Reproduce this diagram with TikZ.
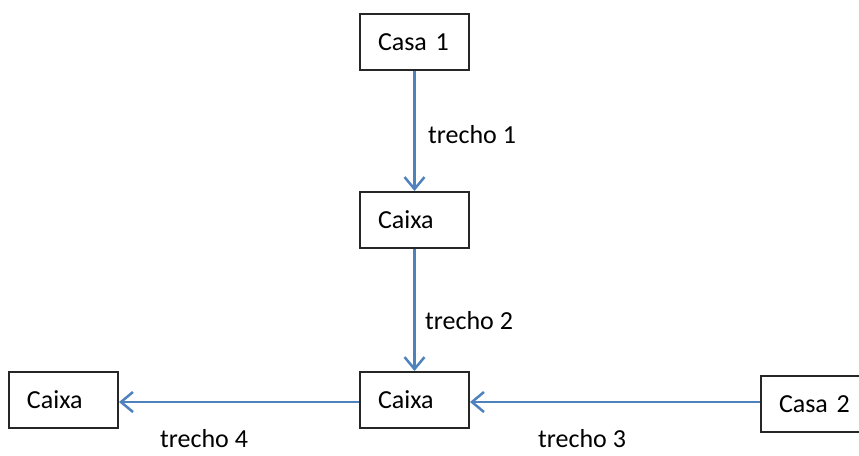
\documentclass[tikz,border=0pt]{standalone}
\usepackage{fontspec}
\setmainfont{Carlito}
\usetikzlibrary{arrows.meta}
\definecolor{arrowblue}{HTML}{4F81BD}
\begin{document}
\begin{tikzpicture}[x=1pt,y=-1pt,
  box/.style={draw=black!85,line width=2pt,minimum width=109pt,minimum height=56pt,
    inner xsep=18pt,inner ysep=0pt,text width=73pt,align=left,font=\fontsize{26}{30}\selectfont},
  conn/.style={draw=arrowblue,line width=2.5pt,-{Straight Barb[length=12pt,width=20pt,line width=2.5pt]}},
  lbl/.style={anchor=base west,inner sep=0pt,text depth=0pt,font=\fontsize{26}{30}\selectfont}]
\useasboundingbox (0,0) rectangle (859,455);
\clip (0,0) rectangle (859,455);
\node[box] (c1) at (414.5,42) {Casa 1};
\node[box] (cx1) at (414.5,220) {Caixa};
\node[box] (cx2) at (414.5,400) {Caixa};
\node[box] (cx3) at (63.5,400) {Caixa};
\node[box,text width=76pt] (c2) at (817,404) {Casa 2};
\draw[conn] (c1.south) -- (cx1.north);
\draw[conn] (cx1.south) -- (cx2.north);
\draw[conn] (c2.west) ++(0,-2) coordinate (c2w) -- (c2w -| cx2.east);
\draw[conn] (cx2.west) ++(0,2) coordinate (cx2w) -- (cx2w -| cx3.east);
\node[lbl] (t1) at (428,143) {trecho 1};
\node[lbl] (t2) at (425,329) {trecho 2};
\node[lbl] (t3) at (538,447) {trecho 3};
\node[lbl] (t4) at (160,447) {trecho 4};
\end{tikzpicture}
\end{document}
